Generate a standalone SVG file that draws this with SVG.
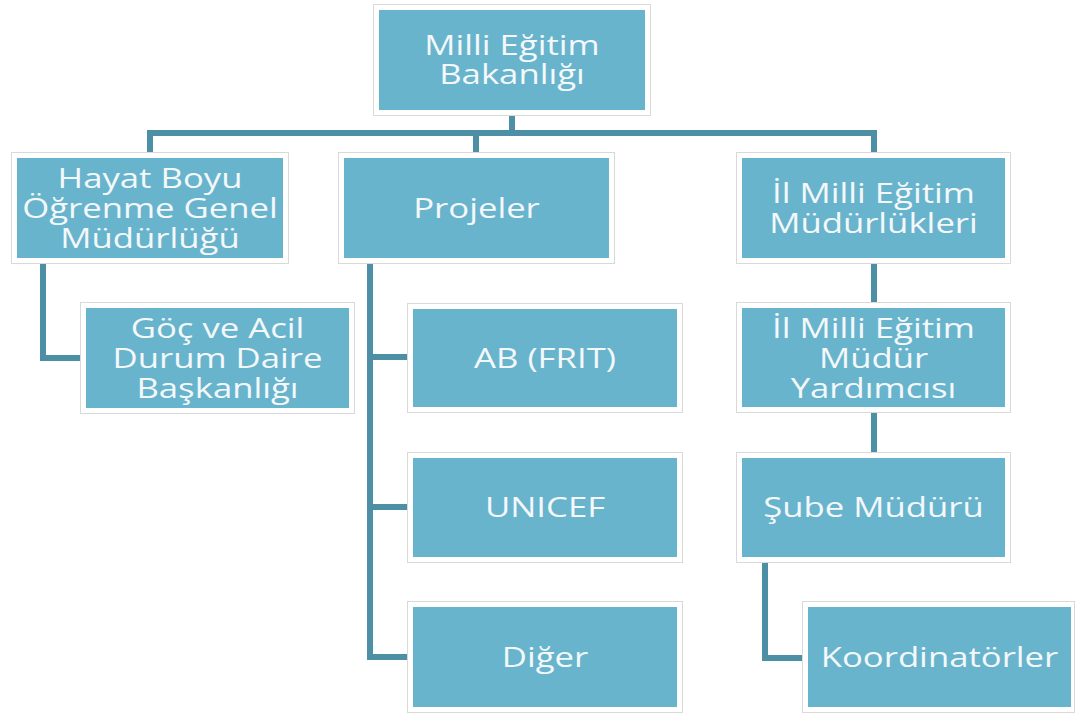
<svg xmlns="http://www.w3.org/2000/svg" width="1075" height="713" viewBox="0 0 1075 713">
<style>
.frame{fill:#ffffff;stroke:#d9d9d9;stroke-width:1}
.box{fill:#68b4cd}
.lbl{font-family:"Open Sans","Noto Sans",sans-serif;font-size:28px;fill:#f4f8fa;text-anchor:middle}
.conn{fill:none;stroke:#4d90a5;stroke-width:6;stroke-linejoin:miter}
</style>
<rect width="1075" height="713" fill="#ffffff"/>
<g id="connectors">
<path class="conn" d="M512 112V133M150 153V133H874V153M476 133V153"/>
<path class="conn" d="M43 263V358H81"/>
<path class="conn" d="M370 263V657H408M370 357H408M370 507H408"/>
<path class="conn" d="M874 263V303M874 412V453"/>
<path class="conn" d="M765 562V658H803"/>
</g>
<g id="n-bakanlik">
<rect class="frame" x="373.5" y="4.5" width="277" height="111"/>
<rect class="box" x="379" y="10" width="266" height="100"/>
<g transform="translate(512 0) scale(1.24 1)"><text class="lbl" x="0" y="55">Milli Eğitim</text><text class="lbl" x="0" y="84">Bakanlığı</text></g>
</g>
<g id="n-hayat">
<rect class="frame" x="11.5" y="152.5" width="277" height="111"/>
<rect class="box" x="17" y="158" width="266" height="100"/>
<g transform="translate(150 0) scale(1.24 1)"><text class="lbl" x="0" y="188">Hayat Boyu</text><text class="lbl" x="0" y="218">Öğrenme Genel</text><text class="lbl" x="0" y="248">Müdürlüğü</text></g>
</g>
<g id="n-goc">
<rect class="frame" x="80.5" y="302.5" width="274" height="111"/>
<rect class="box" x="86" y="308" width="263" height="100"/>
<g transform="translate(217.5 0) scale(1.24 1)"><text class="lbl" x="0" y="338">Göç ve Acil</text><text class="lbl" x="0" y="368">Durum Daire</text><text class="lbl" x="0" y="398">Başkanlığı</text></g>
</g>
<g id="n-projeler">
<rect class="frame" x="338.5" y="152.5" width="276" height="111"/>
<rect class="box" x="344" y="158" width="265" height="100"/>
<g transform="translate(476.5 0) scale(1.24 1)"><text class="lbl" x="0" y="218">Projeler</text></g>
</g>
<g id="n-ab">
<rect class="frame" x="407.5" y="303.5" width="275" height="109"/>
<rect class="box" x="413" y="309" width="264" height="98"/>
<g transform="translate(545 0) scale(1.24 1)"><text class="lbl" x="0" y="368">AB (FRIT)</text></g>
</g>
<g id="n-unicef">
<rect class="frame" x="407.5" y="452.5" width="275" height="110"/>
<rect class="box" x="413" y="458" width="264" height="99"/>
<g transform="translate(545 0) scale(1.24 1)"><text class="lbl" x="0" y="517">UNICEF</text></g>
</g>
<g id="n-diger">
<rect class="frame" x="407.5" y="601.5" width="275" height="111"/>
<rect class="box" x="413" y="607" width="264" height="100"/>
<g transform="translate(545 0) scale(1.24 1)"><text class="lbl" x="0" y="667">Diğer</text></g>
</g>
<g id="n-ilmem">
<rect class="frame" x="736.5" y="152.5" width="274" height="111"/>
<rect class="box" x="742" y="158" width="263" height="100"/>
<g transform="translate(873.5 0) scale(1.24 1)"><text class="lbl" x="0" y="203">İl Milli Eğitim</text><text class="lbl" x="0" y="233">Müdürlükleri</text></g>
</g>
<g id="n-yardimci">
<rect class="frame" x="736.5" y="302.5" width="274" height="110"/>
<rect class="box" x="742" y="308" width="263" height="99"/>
<g transform="translate(873.5 0) scale(1.24 1)"><text class="lbl" x="0" y="338">İl Milli Eğitim</text><text class="lbl" x="0" y="368">Müdür</text><text class="lbl" x="0" y="398">Yardımcısı</text></g>
</g>
<g id="n-sube">
<rect class="frame" x="736.5" y="452.5" width="274" height="110"/>
<rect class="box" x="742" y="458" width="263" height="99"/>
<g transform="translate(873.5 0) scale(1.24 1)"><text class="lbl" x="0" y="517">Şube Müdürü</text></g>
</g>
<g id="n-koord">
<rect class="frame" x="802.5" y="601.5" width="272" height="111"/>
<rect class="box" x="808" y="607" width="263" height="100"/>
<g transform="translate(939.5 0) scale(1.24 1)"><text class="lbl" x="0" y="667">Koordinatörler</text></g>
</g>
</svg>
